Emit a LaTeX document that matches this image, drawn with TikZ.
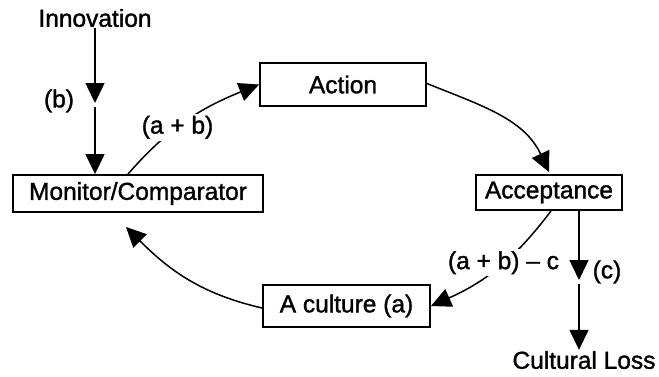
\documentclass[tikz,border=0pt]{standalone}
\usepackage{fontspec}
\setmainfont{Liberation Sans}[FakeBold=1.3]
\usetikzlibrary{arrows.meta}
\begin{document}
\begin{tikzpicture}[x=1pt,y=1pt,
  font=\fontsize{24.5}{29}\selectfont,
  box/.style={draw, line width=1.9pt, inner sep=0pt, align=center},
  lbl/.style={inner sep=1pt},
  gaplbl/.style={fill=white, inner sep=2pt},
  arr/.style={line width=1.5pt, -{Triangle[length=20pt,width=19pt]}}]
\useasboundingbox (0,0) rectangle (659,-376);

% boxes of the loop
\node[box, minimum width=250pt, minimum height=37pt] (mon) at (138,-193.5) {Monitor/Comparator};
\node[box, minimum width=166pt, minimum height=43pt] (act) at (343,-84.5) {Action};
\node[box, minimum width=146pt, minimum height=35pt] (acc) at (549,-192.5) {Acceptance};
\node[box, minimum width=167pt, minimum height=42pt] (cul) at (346.5,-306) {A culture (a)};

% free texts
\node[lbl] (inn) at (95,-18) {Innovation};
\node[lbl] (loss) at (584,-360) {Cultural Loss};
\node[lbl] (blbl) at (59,-101) {(b)};
\node[lbl] (clbl) at (607,-272) {(c)};

% break points of the vertical inputs/outputs
\coordinate (btip) at (95,-103);
\coordinate (bstart) at (95,-107);
\coordinate (ctip) at (579,-280);
\coordinate (cstart) at (579,-284);

% innovation enters the comparator
\draw[arr] (inn.south) -- (btip);
\draw[arr] (bstart) -- (mon.north -| bstart);

% loss leaving acceptance
\draw[arr] (acc.south -| ctip) -- (ctip);
\draw[arr] (cstart) -- (loss.north -| cstart);

% the cycle
\draw[arr] ([xshift=-10pt]mon.north) to[out=49,in=-158]
  node[gaplbl, pos=0.42] (ab) {(a + b)} (act.west);
\draw[arr] ([yshift=1pt]act.east) to[out=-22,in=115] ([yshift=2pt]acc.north);
\draw[arr] ([xshift=2pt]acc.south) to[out=233,in=24]
  node[gaplbl, pos=0.45] (abc) {(a + b) -- c} (cul.east);
\draw[arr] ([yshift=-2pt]cul.west) to[out=167,in=-45] ([xshift=-12pt,yshift=-14pt]mon.south);
\end{tikzpicture}
\end{document}
